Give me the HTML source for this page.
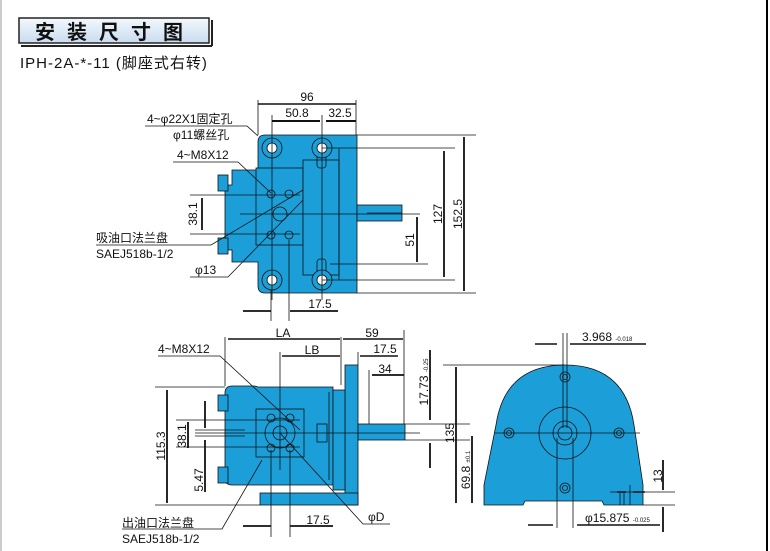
<!DOCTYPE html>
<html><head><meta charset="utf-8"><style>
html,body{margin:0;padding:0;background:#fff;}
svg{display:block;}
text{font-family:"Liberation Sans","Noto Sans CJK SC",sans-serif;fill:#111;}
</style></head><body>
<svg width="770" height="551" viewBox="0 0 770 551" xmlns="http://www.w3.org/2000/svg">
<rect x="0" y="0" width="770" height="551" fill="#fff"/>
<line x1="1" y1="0" x2="1" y2="551" stroke="#ccc" stroke-width="2"/>
<line x1="767" y1="0" x2="767" y2="551" stroke="#000" stroke-width="2"/>
<defs><linearGradient id="g" x1="0" y1="0" x2="0" y2="1"><stop offset="0" stop-color="#f4f8fc"/><stop offset="1" stop-color="#c9dcef"/></linearGradient></defs>
<rect x="19" y="18" width="190" height="25" fill="url(#g)" stroke="#222" stroke-width="1.5"/>
<line x1="212" y1="20" x2="212" y2="46" stroke="#222" stroke-width="2"/>
<line x1="21" y1="46" x2="212" y2="46" stroke="#222" stroke-width="2"/>
<text x="115" y="39" font-size="20" font-weight="bold" text-anchor="middle" letter-spacing="12">安装尺寸图</text>
<text x="20" y="68" font-size="15" letter-spacing="1">IPH-2A-*-11 (脚座式右转)</text>

<g stroke="#111" stroke-width="0.8" fill="none">
<path d="M265 135 H357 V293 H265 Q258 293 258 286 V262 H232 V250 H225 V185 H232 V170 H258 V142 Q258 135 265 135 Z" fill="#1c9fd9"/>
<rect x="256" y="168" width="47" height="77" fill="#1c9fd9"/>
<rect x="303" y="160" width="36" height="115" fill="#1c9fd9"/>
<rect x="357" y="205" width="45" height="16" fill="#1c9fd9"/>
<line x1="367" y1="213" x2="402" y2="213"/>
<rect x="218" y="175" width="10" height="16" fill="#1c9fd9"/>
<rect x="218" y="238" width="10" height="16" fill="#1c9fd9"/>
<rect x="317" y="150" width="9" height="18" rx="3"/>
<rect x="317" y="259" width="9" height="18" rx="3"/>
<line x1="339" y1="148" x2="339" y2="280"/>
</g>
<g fill="#fff" stroke="#111" stroke-width="0.8">
<circle cx="272" cy="148" r="10" fill="#1c9fd9"/><circle cx="272" cy="148" r="5"/>
<circle cx="322" cy="148" r="10" fill="#1c9fd9"/><circle cx="322" cy="148" r="5"/>
<circle cx="272" cy="280" r="10" fill="#1c9fd9"/><circle cx="272" cy="280" r="5"/>
<circle cx="322" cy="280" r="10" fill="#1c9fd9"/><circle cx="322" cy="280" r="5"/>
</g>
<g fill="none" stroke="#111" stroke-width="0.8">
<circle cx="271" cy="194" r="4"/><circle cx="289" cy="194" r="4"/>
<circle cx="271" cy="235" r="4"/><circle cx="289" cy="235" r="4"/>
<circle cx="280" cy="214" r="7"/>
<line x1="258" y1="104" x2="356" y2="104" stroke-width="1.5"/>
<line x1="258" y1="100" x2="258" y2="135"/><line x1="356" y1="100" x2="356" y2="135"/>
<line x1="272" y1="121" x2="320" y2="121" stroke-width="2"/><line x1="326" y1="121" x2="356" y2="121" stroke-width="2"/>
<line x1="272" y1="115" x2="272" y2="300"/><line x1="322" y1="115" x2="322" y2="300"/>
<line x1="357" y1="135" x2="476" y2="135"/><line x1="322" y1="148" x2="455" y2="148"/>
<line x1="322" y1="280" x2="455" y2="280"/><line x1="357" y1="293" x2="476" y2="293"/>
<line x1="330" y1="264" x2="428" y2="264"/><line x1="240" y1="214" x2="420" y2="214"/>
<line x1="464" y1="137" x2="464" y2="291" stroke-width="1.8"/>
<line x1="444" y1="151" x2="444" y2="277" stroke-width="1.8"/>
<line x1="417" y1="217" x2="417" y2="262" stroke-width="1.8"/>
<line x1="190" y1="195" x2="300" y2="195"/><line x1="190" y1="234" x2="300" y2="234"/>
<line x1="202" y1="198" x2="202" y2="230" stroke-width="1.8"/>
<line x1="243" y1="311" x2="271" y2="311" stroke-width="1.8"/><line x1="290" y1="311" x2="338" y2="311" stroke-width="1.8"/>
<line x1="271" y1="290" x2="271" y2="321"/><line x1="289" y1="240" x2="289" y2="321"/>
<polyline points="145,126 247,126 258,136"/>
<polyline points="173,162 238,162 271,193"/>
<polyline points="96,245 211,245 303,190"/>
<polyline points="190,277 228,277 303,200"/>
</g>
<g font-size="12">
<text x="307" y="101" text-anchor="middle">96</text>
<text x="297" y="117" text-anchor="middle">50.8</text>
<text x="340" y="117" text-anchor="middle">32.5</text>
<text x="147" y="123">4~φ22X1固定孔</text>
<text x="173" y="139">φ11螺丝孔</text>
<text x="177" y="159">4~M8X12</text>
<text x="96" y="242">吸油口法兰盘</text>
<text x="96" y="258">SAEJ518b-1/2</text>
<text x="195" y="274">φ13</text>
<text x="320" y="308" text-anchor="middle">17.5</text>
<text transform="translate(197,214) rotate(-90)" text-anchor="middle">38.1</text>
<text transform="translate(414,240) rotate(-90)" text-anchor="middle">51</text>
<text transform="translate(442,214) rotate(-90)" text-anchor="middle">127</text>
<text transform="translate(462,214) rotate(-90)" text-anchor="middle">152.5</text>
</g>

<g stroke="#111" stroke-width="0.8" fill="#1c9fd9">
<path d="M232 386 H255 L258 387 H333 V485 H232 Q225 485 225 478 V393 Q225 386 232 386 Z"/>
<rect x="345" y="365" width="13" height="140"/>
<rect x="260" y="493" width="98" height="12"/>
<rect x="333" y="390" width="12" height="100"/>
<rect x="358" y="424" width="47" height="16"/>
<rect x="218" y="395" width="10" height="16"/>
<rect x="218" y="467" width="10" height="16"/>
<rect x="317" y="424" width="10" height="18"/>
</g>
<g fill="none" stroke="#111" stroke-width="0.8">
<rect x="256" y="409" width="48" height="48"/>
<circle cx="280" cy="433" r="15"/><circle cx="280" cy="433" r="7"/>
<circle cx="271" cy="418" r="4"/><circle cx="290" cy="418" r="4"/>
<circle cx="271" cy="448" r="4"/><circle cx="290" cy="448" r="4"/>
<line x1="329" y1="392" x2="329" y2="480"/>
<line x1="225" y1="337" x2="225" y2="386"/><line x1="341" y1="337" x2="341" y2="385"/><line x1="404" y1="330" x2="404" y2="424"/>
<line x1="228" y1="339" x2="340" y2="339" stroke-width="1.5"/>
<line x1="343" y1="339" x2="403" y2="339" stroke-width="1.5"/>
<line x1="280" y1="352" x2="280" y2="470"/>
<line x1="282" y1="356" x2="340" y2="356" stroke-width="1.5"/><line x1="360" y1="356" x2="398" y2="356" stroke-width="1.5"/>
<line x1="358" y1="352" x2="358" y2="365"/>
<line x1="372" y1="375" x2="404" y2="375" stroke-width="1.8"/><line x1="369" y1="370" x2="369" y2="424"/>
<line x1="155" y1="387" x2="225" y2="387"/><line x1="155" y1="505" x2="260" y2="505"/>
<line x1="167" y1="390" x2="167" y2="503" stroke-width="1.8"/>
<line x1="176" y1="420" x2="300" y2="420"/><line x1="176" y1="447" x2="300" y2="447"/>
<line x1="188" y1="422" x2="188" y2="448" stroke-width="1.8"/>
<line x1="205" y1="401" x2="205" y2="428" stroke-width="1.8"/>
<line x1="205" y1="440" x2="205" y2="492" stroke-width="1.8"/>
<line x1="195" y1="433" x2="420" y2="433"/><line x1="195" y1="430" x2="245" y2="430"/><line x1="195" y1="436" x2="245" y2="436"/>
<line x1="405" y1="424" x2="470" y2="424"/><line x1="405" y1="440" x2="470" y2="440"/>
<line x1="430" y1="350" x2="430" y2="420" stroke-width="1.8"/><line x1="430" y1="443" x2="430" y2="468" stroke-width="1.8"/>
<line x1="456" y1="367" x2="456" y2="503" stroke-width="1.8"/>
<line x1="472" y1="436" x2="472" y2="503" stroke-width="1.8"/>
<line x1="443" y1="365" x2="565" y2="365"/>
<line x1="243" y1="526" x2="271" y2="526" stroke-width="1.8"/><line x1="290" y1="526" x2="333" y2="526" stroke-width="1.8"/>
<line x1="271" y1="450" x2="271" y2="537"/><line x1="290" y1="450" x2="290" y2="537"/>
<polyline points="158,356 220,356 300,430"/>
<polyline points="122,529 222,529 262,460"/>
<polyline points="280,433 363,524 390,524"/>
</g>
<g font-size="12">
<text x="283" y="337" text-anchor="middle">LA</text>
<text x="372" y="337" text-anchor="middle">59</text>
<text x="312" y="354" text-anchor="middle">LB</text>
<text x="385" y="353" text-anchor="middle">17.5</text>
<text x="385" y="373" text-anchor="middle">34</text>
<text x="158" y="353">4~M8X12</text>
<text x="122" y="527">出油口法兰盘</text>
<text x="122" y="543">SAEJ518b-1/2</text>
<text x="318" y="524" text-anchor="middle">17.5</text>
<text x="368" y="521">φD</text>
<text transform="translate(165,446) rotate(-90)" text-anchor="middle">115.3</text>
<text transform="translate(186,436) rotate(-90)" text-anchor="middle">38.1</text>
<text transform="translate(203,480) rotate(-90)" text-anchor="middle">5.47</text>
<text transform="translate(428,382) rotate(-90)" text-anchor="middle">17.73 <tspan font-size="6">-0.25</tspan></text>
<text transform="translate(454,433) rotate(-90)" text-anchor="middle">135</text>
<text transform="translate(470,470) rotate(-90)" text-anchor="middle">69.8 <tspan font-size="6">±0.1</tspan></text>
</g>

<g stroke="#111" stroke-width="0.8">
<path d="M484 505 L484 485 L496 425 Q505 365 565 365 Q625 365 634 425 L643 485 L643 505 L604 505 L602 501 L525 501 L523 505 Z" fill="#1c9fd9"/>
</g>
<g fill="none" stroke="#111" stroke-width="0.8">
<circle cx="565" cy="433" r="26"/><circle cx="565" cy="433" r="12"/><circle cx="565" cy="433" r="7" fill="#1c9fd9"/>
<circle cx="565" cy="377" r="5"/><circle cx="565" cy="377" r="2.5"/>
<circle cx="509" cy="433" r="5"/><circle cx="509" cy="433" r="2.5"/>
<circle cx="619" cy="433" r="5"/><circle cx="619" cy="433" r="2.5"/>
<circle cx="565" cy="488" r="5"/><circle cx="565" cy="488" r="2.5"/>
<line x1="563" y1="333" x2="563" y2="428"/><line x1="567" y1="333" x2="567" y2="428"/>
<line x1="557" y1="438" x2="557" y2="528"/><line x1="573" y1="438" x2="573" y2="528"/>
<line x1="495" y1="433" x2="640" y2="433"/>
<line x1="535" y1="344" x2="557" y2="344" stroke-width="1.5"/><line x1="570" y1="344" x2="646" y2="344" stroke-width="1.5"/>
<line x1="528" y1="525" x2="553" y2="525" stroke-width="1.5"/><line x1="577" y1="525" x2="660" y2="525" stroke-width="1.5"/>
<line x1="620" y1="492" x2="620" y2="505"/><line x1="624" y1="492" x2="624" y2="505"/><line x1="630" y1="485" x2="630" y2="505"/>
<line x1="617" y1="492" x2="626" y2="492" stroke-width="1.5"/><line x1="633" y1="492" x2="645" y2="492" stroke-width="1.5"/>
<line x1="610" y1="492" x2="675" y2="492"/><line x1="643" y1="505" x2="675" y2="505"/>
<line x1="663" y1="460" x2="663" y2="490" stroke-width="1.8"/><line x1="663" y1="507" x2="663" y2="532" stroke-width="1.8"/>
</g>
<g font-size="12">
<text x="582" y="341">3.968 <tspan font-size="6">-0.018</tspan></text>
<text x="585" y="522">φ15.875 <tspan font-size="6">-0.025</tspan></text>
<text transform="translate(662,476) rotate(-90)" text-anchor="middle">13</text>
</g>
</svg>
</body></html>
